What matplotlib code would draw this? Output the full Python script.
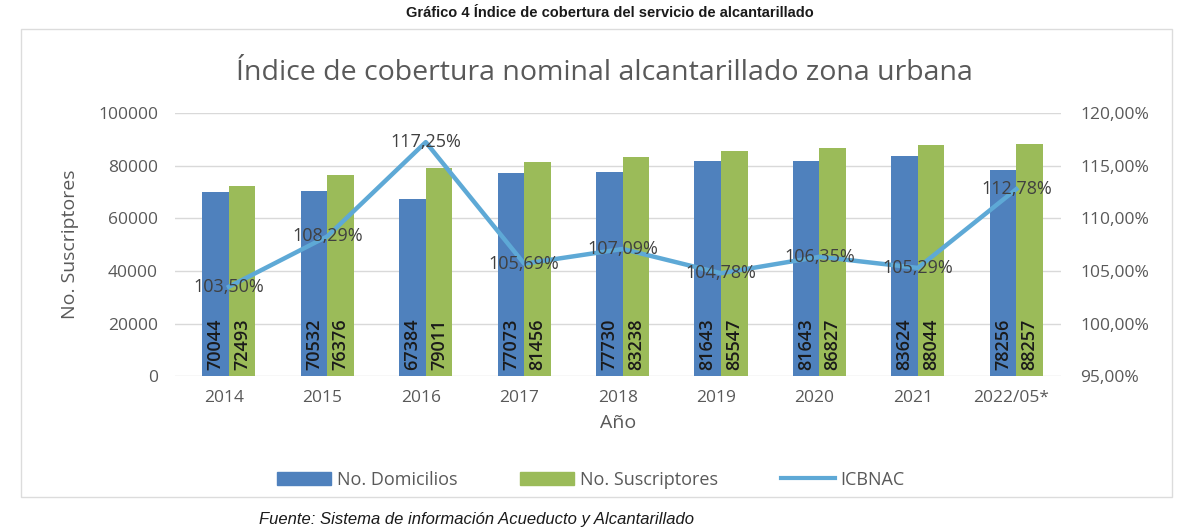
import matplotlib
matplotlib.use("Agg")
import matplotlib.pyplot as plt
from matplotlib.patches import Patch, Rectangle
from matplotlib.lines import Line2D
from matplotlib.ticker import FuncFormatter
import numpy as np

years = ["2014", "2015", "2016", "2017", "2018", "2019", "2020", "2021", "2022/05*"]
domicilios = [70044, 70532, 67384, 77073, 77730, 81643, 81643, 83624, 78256]
suscriptores = [72493, 76376, 79011, 81456, 83238, 85547, 86827, 88044, 88257]
icbnac = [103.50, 108.29, 117.25, 105.69, 107.09, 104.78, 106.35, 105.29, 112.78]

BLUE = "#4f81bd"
GREEN = "#9bbb59"
LINE = "#5ea9d6"
TXT = "#595959"
FONT = "Open Sans"

fig = plt.figure(figsize=(11.89, 5.29), dpi=100)
ax = fig.add_axes([0.147, 0.289, 0.745, 0.497])
ax2 = ax.twinx()

x = np.arange(len(years))
w = 0.27
b1 = ax.bar(x - w / 2 + 0.05, domicilios, w, color=BLUE, zorder=2)
b2 = ax.bar(x + w / 2 + 0.05, suscriptores, w, color=GREEN, zorder=2)

# numbers at the base of the bars, rotated
for bars, vals in ((b1, domicilios), (b2, suscriptores)):
    for r, v in zip(bars, vals):
        ax.text(r.get_x() + r.get_width() / 2, 2500, str(v), rotation=90,
                ha="center", va="bottom", fontsize=13, fontweight="semibold",
                family=FONT, color="#1a1a1a", zorder=3)

ax.set_ylim(0, 100000)
ax.set_yticks(range(0, 100001, 20000))
ax.set_xlim(-0.5, len(years) - 0.5)
ax.set_xticks(x)
ax.set_xticklabels(years)
ax.grid(axis="y", color="#d9d9d9", lw=1, zorder=0)
ax.set_axisbelow(True)

ax2.plot(x + 0.05, icbnac, color=LINE, lw=3.2, zorder=4)
ax2.set_ylim(95, 120)
ax2.set_yticks(range(95, 121, 5))
ax2.yaxis.set_major_formatter(FuncFormatter(lambda v, p: f"{v:.2f}%".replace(".", ",")))
for xi, v in zip(x, icbnac):
    ax2.text(xi + 0.05, v, f"{v:.2f}%".replace(".", ","), ha="center", va="center",
             fontsize=13, family=FONT, color="#404040", zorder=5)

for a in (ax, ax2):
    for s in a.spines.values():
        s.set_visible(False)
    a.tick_params(length=0, labelsize=12.5, labelcolor=TXT)
    for lab in a.get_xticklabels() + a.get_yticklabels():
        lab.set_family(FONT)
ax.tick_params(axis="x", pad=10)
ax.tick_params(axis="y", pad=12)
ax2.tick_params(axis="y", pad=14)

ax.set_xlabel("Año", fontsize=14, color=TXT, family=FONT, labelpad=6)
ax.set_ylabel("No. Suscriptores", fontsize=14, color=TXT, family=FONT, labelpad=14)

fig.text(0.508, 0.862, "Índice de cobertura nominal alcantarillado zona urbana",
         ha="center", va="center", fontsize=20.5, color=TXT, family=FONT)
fig.text(0.513, 0.975, "Gráfico 4 Índice de cobertura del servicio de alcantarillado",
         ha="center", va="center", fontsize=10.5, fontweight="bold",
         family="Liberation Sans", color="#1a1a1a")

handles = [Patch(color=BLUE), Patch(color=GREEN), Line2D([], [], color=LINE, lw=3)]
fig.legend(handles, ["No. Domicilios", "No. Suscriptores", "ICBNAC"],
           loc="center", bbox_to_anchor=(0.497, 0.093), ncol=3, frameon=False,
           prop={"family": FONT, "size": 13}, labelcolor=TXT,
           handlelength=3.0, handleheight=0.8, columnspacing=3.5, handletextpad=0.3)

# chart area outline
fig.patches.append(Rectangle((0.018, 0.06), 0.968, 0.885, transform=fig.transFigure,
                             fill=False, ec="#dcdcdc", lw=1))

fig.text(0.218, 0.004, "Fuente: Sistema de información Acueducto y Alcantarillado",
         ha="left", va="bottom", fontsize=12, style="italic",
         family="Liberation Sans", color="#1a1a1a")

fig.savefig("out.png", dpi=100)
